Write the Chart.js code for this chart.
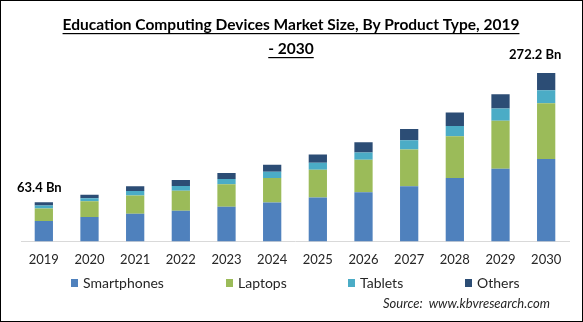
<!DOCTYPE html>
<html>
<head>
<meta charset="utf-8">
<script src="https://cdn.jsdelivr.net/npm/chart.js@4.4.0/dist/chart.umd.min.js"></script>
<style>
  html, body { margin: 0; padding: 0; background: #fff; }
  #wrap { width: 583px; height: 322px; position: relative; }
</style>
</head>
<body>
<div id="wrap"><canvas id="marketChart"></canvas></div>
<script>
const years = ['2019', '2020', '2021', '2022', '2023', '2024', '2025', '2026', '2027', '2028', '2029', '2030'];
const smartphones = [33.0, 39.6, 44.6, 49.5, 56.1, 62.7, 71.0, 79.2, 89.1, 102.3, 117.2, 133.0];
const laptops = [20.3, 25.2, 29.7, 32.5, 36.3, 39.6, 44.6, 52.8, 59.4, 67.7, 77.6, 90.0];
const tablets = [4.5, 5.0, 7.1, 7.6, 8.3, 10.4, 11.6, 11.6, 14.9, 16.5, 19.8, 21.3];
const others = [5.6, 5.6, 7.8, 9.4, 9.9, 11.1, 13.2, 16.5, 18.2, 21.5, 23.1, 27.9];
const seriesNames = ['Smartphones', 'Laptops', 'Tablets', 'Others'];
const seriesColors = ['#4F81BD', '#9BBB59', '#4BACC6', '#2C4D75'];
const endLabels = { '2019': '63.4 Bn', '2030': '272.2 Bn' };

const titleLines = ['Education Computing Devices Market Size, By Product Type, 2019', '- 2030'];
const sourceText = 'Source:  www.kbvresearch.com';

// title, frame, value notes, legend and source drawn on top of the chart
const decorations = {
    id: 'decorations',
    afterDraw(chart) {
        const c = chart.ctx;
        const w = chart.width, h = chart.height;
        c.save();

        c.strokeStyle = '#000';
        c.lineWidth = 1;
        c.strokeRect(0.5, 0.5, w - 1, h - 1);

        c.fillStyle = '#000';
        c.font = 'bold 15.5px Lato';
        c.textAlign = 'center';
        c.textBaseline = 'alphabetic';
        titleLines.forEach((line, i) => {
            const y = 30 + i * 24;
            c.fillText(line, 291, y);
            const tw = c.measureText(line).width;
            c.fillRect(291 - tw / 2, y + 3, tw, 1.2);
        });

        // total labels above the first and last bars
        const meta = chart.getDatasetMeta(3);
        c.font = 'bold 13px Lato';
        c.textAlign = 'center';
        years.forEach((yr, i) => {
            if (!endLabels[yr]) return;
            const bar = meta.data[i];
            if (i === 0) c.fillText(endLabels[yr], bar.x - 4.5, bar.y - 10);
            else c.fillText(endLabels[yr], bar.x - 11, bar.y - 14);
        });

        // legend
        const legendX = [71, 226, 348, 465];
        c.font = '14px Lato';
        c.textAlign = 'left';
        c.textBaseline = 'middle';
        seriesNames.forEach((name, i) => {
            c.fillStyle = seriesColors[i];
            c.fillRect(legendX[i], 279, 7, 8);
            c.fillStyle = '#262626';
            c.fillText(name, legendX[i] + 12, 283);
        });

        c.font = 'italic 13px Lato';
        c.textAlign = 'right';
        c.fillStyle = '#262626';
        c.fillText(sourceText, 550, 304);
        c.restore();
    }
};

const datasets = [smartphones, laptops, tablets, others].map((vals, i) => ({
    label: seriesNames[i],
    data: vals,
    backgroundColor: seriesColors[i],
    borderWidth: 0,
    barPercentage: 0.8,
    categoryPercentage: 0.5
}));

new Chart(document.getElementById('marketChart'), {
    type: 'bar',
    data: { labels: years, datasets: datasets },
    plugins: [decorations],
    options: {
        responsive: true,
        maintainAspectRatio: false,
        animation: false,
        layout: { padding: { top: 60, left: 21, right: 14, bottom: 51 } },
        plugins: {
            legend: { display: false },
            tooltip: { enabled: false }
        },
        scales: {
            x: {
                stacked: true,
                grid: { display: false },
                border: { display: true, color: '#d9d9d9', width: 1 },
                ticks: { color: '#262626', font: { family: 'Lato', size: 13 }, padding: 3 }
            },
            y: {
                stacked: true,
                display: false,
                min: 0,
                max: 293
            }
        }
    }
});
</script>
</body>
</html>
